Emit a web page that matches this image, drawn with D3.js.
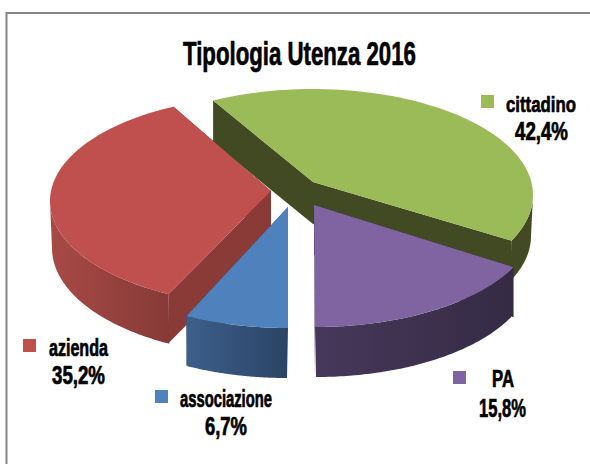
<!DOCTYPE html>
<html><head><meta charset="utf-8">
<script src="https://cdn.jsdelivr.net/npm/d3@7/dist/d3.min.js"></script>
<style>html,body{margin:0;padding:0;background:#fff}svg{display:block}
text{font-family:"Liberation Sans Narrow","Liberation Sans",sans-serif;font-weight:700;fill:#000;stroke:#000;stroke-width:.8px;text-anchor:start}</style>
</head><body><svg id="c" width="590" height="464"></svg>
<script>
// data
const categories = ["cittadino","PA","associazione","azienda"];
const values = [42.4,15.8,6.7,35.2];
const percentLabels = ["42,4%","15,8%","6,7%","35,2%"];
const titleText = "Tipologia Utenza 2016";
const topColors = ["#9bbb59","#8064a2","#4f81bd","#c0504d"];
// layout
const viewAngles = [-27,115.5,180,207.5,334];
const drawOrder = [0,3,2,1];
const slices = [
 {apex:[313,182],top:[313,195,220,106],bottom:[312,236,219,106],cutDepth:42,side:["#414a22","#414a22"],cut:"#414a22"},
 {apex:[314,205],top:[315,222,220,105],bottom:[316,272,216,105],cutDepth:50,side:["#46385a","#352b45"],cut:"#352b45"},
 {apex:[288,207],top:[288,223,220,105],bottom:[287,273,216,105],cutDepth:50,side:["#3c5f8c","#2b4465"],cut:"#2b4465"},
 {apex:[271,191],top:[270,201,220,105],bottom:[270,248,218,108],cutDepth:49,side:["#a84a47","#863a37"],cut:"#8a3a37"}
];
const labelLayout = [
 {sq:[481,95],name:[506,112,70],pct:[515,140,53]},
 {sq:[453,371],name:[492,387,22],pct:[479,417,47]},
 {sq:[155,390],name:[180,407,92],pct:[205,435,42]},
 {sq:[23,339],name:[49,356,59],pct:[52,384,53]}
];
const svg = d3.select("#c");
const defs = svg.append("defs");
// frame
svg.append("path").attr("d","M6.5,464V13H590").attr("fill","none").attr("stroke","#868686").attr("stroke-width",2);
// fitted text: squeezed horizontally to the measured target width
function fitted(str,x,y,size,width){
  const t = svg.append("text").attr("font-size",size).text(str);
  const k = width/t.node().getComputedTextLength();
  t.attr("transform",`translate(${x},${y}) scale(${k},1)`).style("stroke-width",".7px");
  return t;
}
fitted(titleText,183,65,33,233);

const arcs = d3.pie().sort(null).value(d=>d)(values);
const cum = [arcs[0].startAngle,...arcs.map(a=>a.endAngle)];
const warp = d3.scaleLinear().domain(cum).range(viewAngles.map(d=>d*Math.PI/180));
const line = d3.line();
const ep = (e,a)=>[e[0]+e[2]*Math.sin(a),e[1]-e[3]*Math.cos(a)];
const sweep = (a0,a1,n=80)=>d3.range(n+1).map(i=>a0+(a1-a0)*i/n);
const draw = (pts,fill)=>svg.append("path").attr("d",line(pts)+"Z").attr("fill",fill);

drawOrder.forEach(i=>{
  const arc = arcs[i], s = slices[i];
  const a0 = warp(arc.startAngle), a1 = warp(arc.endAngle);
  const start = ep(s.top,a0), end = ep(s.top,a1);
  const down = p=>[p[0],p[1]+s.cutDepth];
  // flat cut faces
  draw([s.apex,start,down(start),down(s.apex)],s.cut);
  draw([s.apex,end,down(end),down(s.apex)],s.cut);
  // curved outer wall: only the part facing the viewer
  const vis0 = Math.max(a0,Math.PI/2), vis1 = Math.min(a1,Math.PI*1.5);
  if(vis1>vis0){
    const g = defs.append("linearGradient").attr("id","g"+i);
    g.append("stop").attr("offset",0).attr("stop-color",s.side[0]);
    g.append("stop").attr("offset",1).attr("stop-color",s.side[1]);
    const ang = sweep(vis0,vis1);
    draw([...ang.map(a=>ep(s.top,a)),...ang.slice().reverse().map(a=>ep(s.bottom,a))],`url(#g${i})`);
  }
  // top
  draw([s.apex,...sweep(a0,a1).map(a=>ep(s.top,a))],topColors[i]);
});
categories.forEach((name,i)=>{
  const L = labelLayout[i];
  svg.append("rect").attr("x",L.sq[0]).attr("y",L.sq[1]).attr("width",13).attr("height",13).attr("fill",topColors[i]);
  fitted(name,L.name[0],L.name[1],23,L.name[2]);
  fitted(percentLabels[i],L.pct[0],L.pct[1],25,L.pct[2]);
});
</script></body></html>
